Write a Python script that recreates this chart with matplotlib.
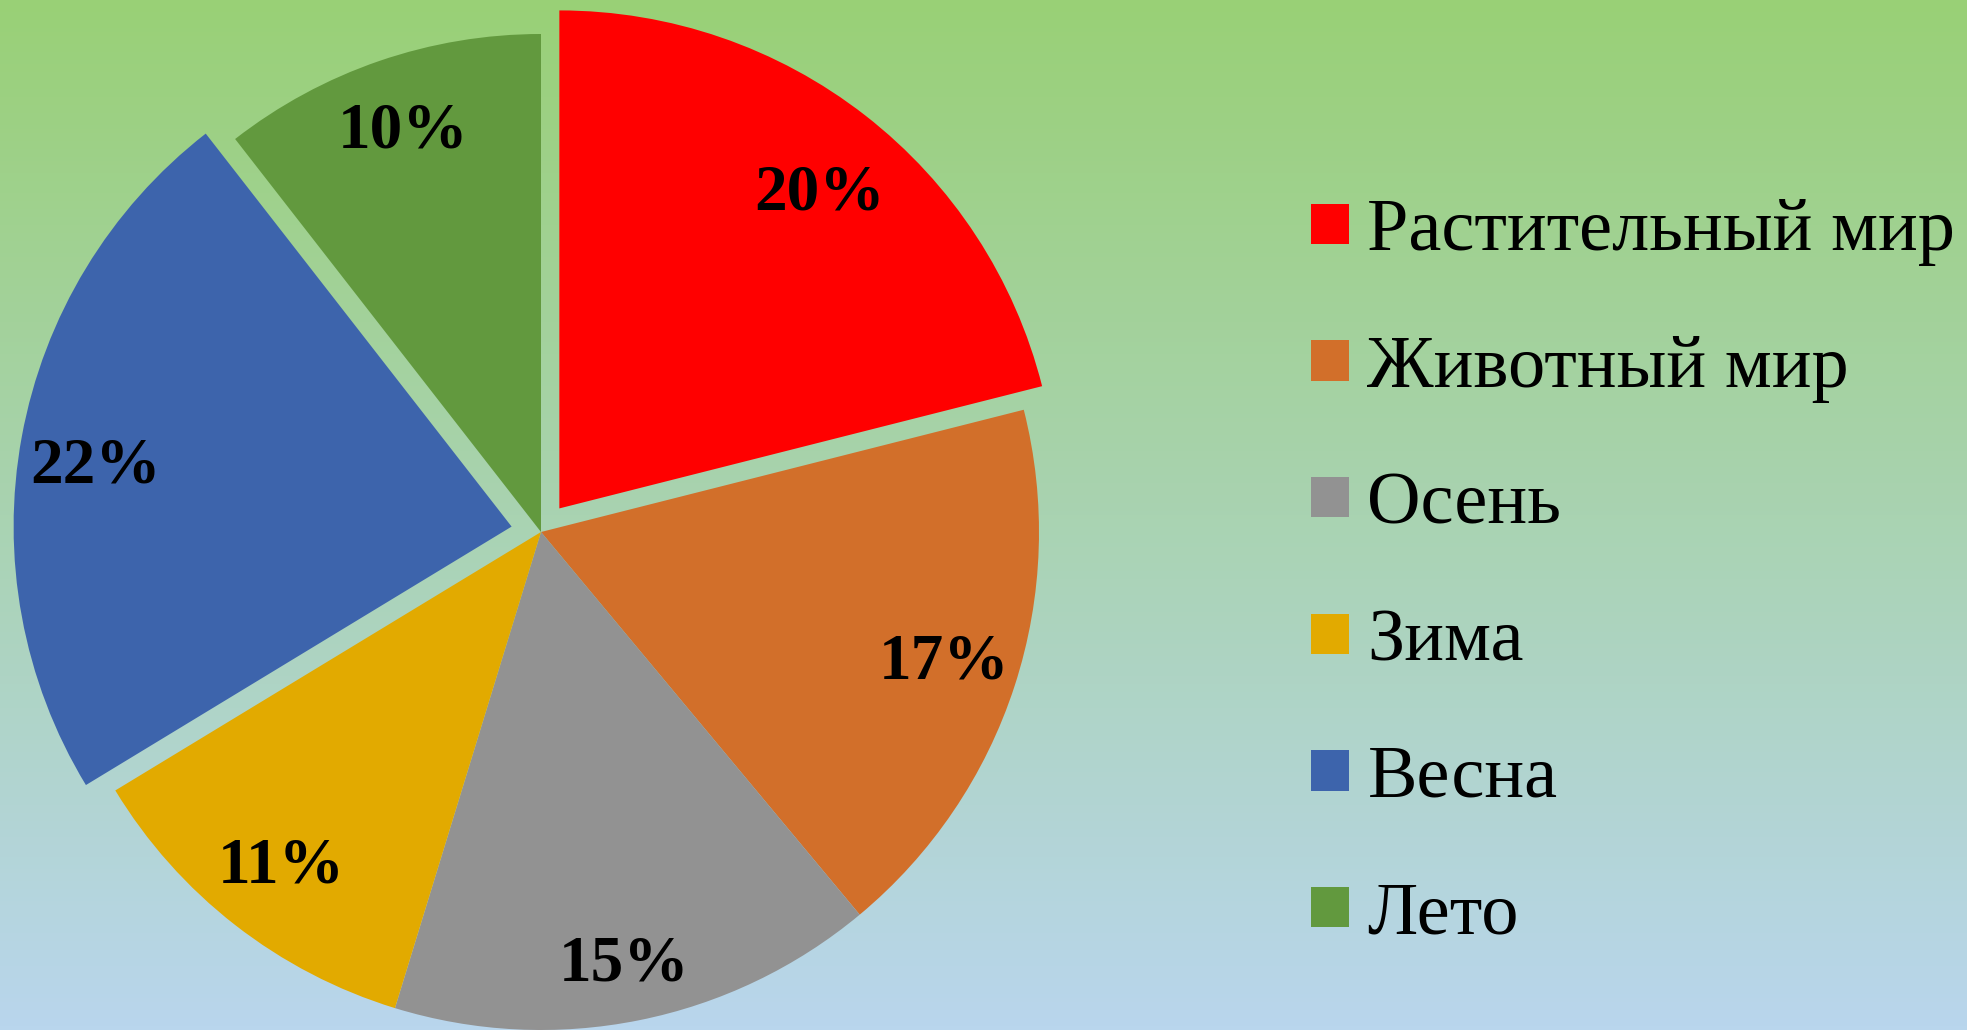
import numpy as np
import matplotlib
matplotlib.use('Agg')
from matplotlib import pyplot as plt

# pie data
categories = ['Растительный мир', 'Животный мир', 'Осень', 'Зима', 'Весна', 'Лето']
values = [20, 17, 15, 11, 22, 10]
colors = ['#FF0000', '#D26F2A', '#929292', '#E2AA00', '#3D64AC', '#62993E']
explode = [0.06, 0, 0, 0, 0.06, 0]

W, H = 1967, 1030
CX, CY, R = 541, 532, 498  # pie centre / radius in pixels (from top)

fig = plt.figure(figsize=(W / 100, H / 100), dpi=100)

# background gradient green -> light blue
top = np.array([153, 208, 118]) / 255.0
bottom = np.array([185, 214, 237]) / 255.0
t = np.linspace(0, 1, 256)[:, None]
grad = (top * (1 - t) + bottom * t)[:, None, :]
bg = fig.add_axes([0, 0, 1, 1])
bg.imshow(grad, aspect='auto', extent=[0, 1, 0, 1])
bg.axis('off')

ax = fig.add_axes([0, 0, 1, 1])
ax.patch.set_alpha(0)

total = sum(values)
wedges, texts, autotexts = ax.pie(
    values, colors=colors, explode=explode, startangle=90, counterclock=False,
    autopct=lambda p: '{:d}%'.format(int(round(p * total / 100.0))),
    pctdistance=0.85, radius=1.0,
    wedgeprops=dict(linewidth=0, edgecolor='none'),
    textprops=dict(family='Liberation Serif', fontsize=47, fontweight='bold', color='black'))

# small nudges so labels sit where excel put them
nudge = [-0.038, 0, -0.035, 0, -0.033, 0]
for txt, dy in zip(autotexts, nudge):
    x, y = txt.get_position()
    txt.set_position((x, y + dy))

ax.set_aspect('auto')
ax.set_xlim(-CX / R, (W - CX) / R)
ax.set_ylim(-(H - CY) / R, CY / R)
ax.axis('off')

leg = fig.legend(wedges, categories, loc='upper left',
                 bbox_to_anchor=(1311 / W, (H - 199) / H),
                 frameon=False, borderpad=0, borderaxespad=0,
                 handlelength=0.51, handleheight=0.46, handletextpad=0.25,
                 labelspacing=0.93,
                 prop=dict(family='Liberation Serif', size=53.5))

fig.savefig('out.png', dpi=100)
